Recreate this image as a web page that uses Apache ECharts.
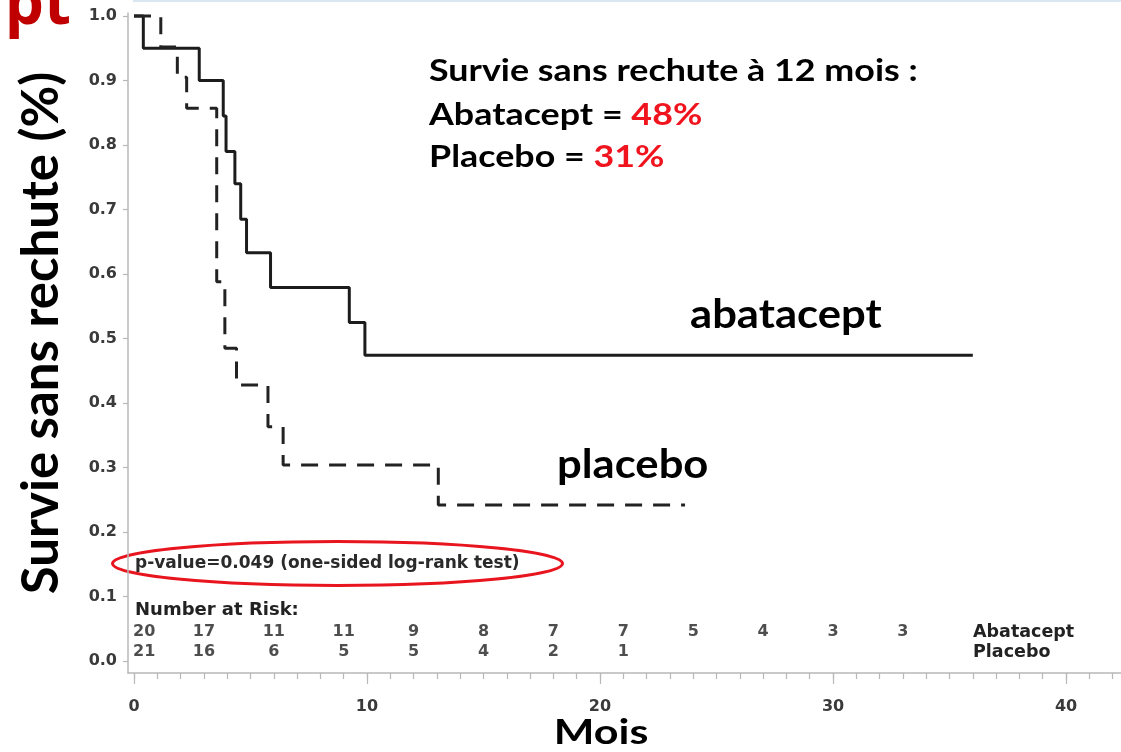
<!DOCTYPE html>
<html>
<head>
<meta charset="utf-8">
<script src="https://cdn.jsdelivr.net/npm/echarts@6/dist/echarts.min.js"></script>
<style>
html,body{margin:0;padding:0;background:#fff;}
#chart{width:1121px;height:752px;}
</style>
</head>
<body>
<div id="chart"></div>
<script>
// ---- Data ----
const abataceptTimes = [0, 0.4, 2.8, 3.83, 3.95, 4.33, 4.58, 4.83, 5.86, 9.24, 9.91, 36.0];
const abataceptSurv  = [1.0, 0.95, 0.90, 0.845, 0.79, 0.74, 0.685, 0.633, 0.579, 0.525, 0.474, 0.474];
const placeboTimes   = [0, 1.15, 1.86, 2.26, 3.55, 3.9, 4.4, 5.75, 6.4, 13.06, 23.65];
const placeboSurv    = [1.0, 0.952, 0.905, 0.857, 0.588, 0.485, 0.428, 0.363, 0.304, 0.242, 0.242];

const atRiskTimes     = [0, 3, 6, 9, 12, 15, 18, 21, 24, 27, 30, 33];
const atRiskAbatacept = [20, 17, 11, 11, 9, 8, 7, 7, 5, 4, 3, 3];
const atRiskPlacebo   = [21, 16, 6, 5, 5, 4, 2, 1];

const xTickLabels = [0, 10, 20, 30, 40];
const xMinorTicks = [0,1,2,3,4,5,6,7,8,9,10,11,12,13,14,15,16,17,18,19,20,21,22,23,24,25,26,27,28,29,30,31,32,33,34,35,36,37,38,39,40,41,42];
const yTickLabels = [0, 0.1, 0.2, 0.3, 0.4, 0.5, 0.6, 0.7, 0.8, 0.9, 1.0];

const annotTitle = 'Survie sans rechute à 12 mois :';
const annotAbatacept = '48%';
const annotPlacebo = '31%';
const pValueText = 'p-value=0.049 (one-sided log-rank test)';

// ---- Chart ----
const chart = echarts.init(document.getElementById('chart'), null, {renderer: 'canvas'});
const AX = '#b8b8b8';
const SANS = 'DejaVu Sans';
const BIG = 'Lato';

function zip(a, b) { return a.map((v, i) => [v, b[i]]); }
function riskData(counts, rowY) {
  return counts.map((n, i) => {
    const d = {value: [atRiskTimes[i], rowY, n]};
    if (i === 0) d.label = {align: 'left', offset: [-1, 0]};
    return d;
  });
}
const riskLabel = {
  show: true, position: 'inside', formatter: p => p.value[2],
  fontFamily: SANS, fontWeight: 'bold', fontSize: 16, color: '#222'
};

const option = {
  animation: false,
  backgroundColor: '#fff',
  grid: {left: 128, right: 0, top: 13, bottom: 79, containLabel: false},
  xAxis: [
    {
      type: 'value', min: -0.2575, max: 42.36, position: 'bottom',
      axisLine: {show: true, onZero: false, lineStyle: {color: AX, width: 1.5}},
      axisTick: {show: true, customValues: xMinorTicks, length: 6, lineStyle: {color: AX, width: 1.2}},
      axisLabel: {show: false},
      splitLine: {show: false}
    },
    {
      type: 'value', min: -0.2575, max: 42.36, position: 'bottom',
      axisLine: {show: false, onZero: false},
      axisTick: {show: true, customValues: xTickLabels, length: 11, lineStyle: {color: AX, width: 1.2}},
      axisLabel: {show: true, customValues: xTickLabels, margin: 26,
        fontFamily: SANS, fontWeight: 'bold', fontSize: 16, color: '#3a3a3a'},
      splitLine: {show: false}
    }
  ],
  yAxis: {
    type: 'value', min: -0.0186, max: 1.00465,
    axisLine: {show: true, onZero: false, lineStyle: {color: AX, width: 1.5}},
    axisTick: {show: true, customValues: yTickLabels, length: 5, lineStyle: {color: AX, width: 1.2}},
    axisLabel: {show: true, customValues: yTickLabels, formatter: v => v.toFixed(1), margin: 11,
      fontFamily: SANS, fontWeight: 'bold', fontSize: 16, color: '#3a3a3a'},
    splitLine: {show: false}
  },
  series: [
    {
      name: 'abatacept', type: 'line', step: 'end', symbol: 'none',
      data: zip(abataceptTimes, abataceptSurv),
      lineStyle: {color: '#1c1c1c', width: 3}, z: 3
    },
    {
      name: 'placebo', type: 'line', step: 'end', symbol: 'none',
      data: zip(placeboTimes, placeboSurv),
      lineStyle: {color: '#222', width: 3, type: [17, 11]}, z: 3
    },
    {
      name: 'riskA', type: 'scatter', symbolSize: 1, itemStyle: {color: 'rgba(0,0,0,0)'},
      data: riskData(atRiskAbatacept, 0.045), label: riskLabel, silent: true
    },
    {
      name: 'riskP', type: 'scatter', symbolSize: 1, itemStyle: {color: 'rgba(0,0,0,0)'},
      data: riskData(atRiskPlacebo, 0.0145), label: riskLabel, silent: true
    }
  ],
  graphic: [
    {type: 'rect', shape: {x: 133, y: 0, width: 988, height: 2}, style: {fill: '#dbe6f3'}, silent: true},
    {type: 'text', x: 71, y: 6, style: {
      text: 'pt', align: 'right', verticalAlign: 'middle',
      font: 'bold 62px "Open Sans"', fill: '#c00000',
      shadowColor: 'rgba(0,0,0,0.45)', shadowBlur: 4, shadowOffsetX: 3, shadowOffsetY: 3}},
    {type: 'text', x: 42, y: 333, rotation: Math.PI / 2, style: {
      text: 'Survie sans rechute (%)', align: 'center', verticalAlign: 'middle',
      font: 'bold 51px ' + BIG, fill: '#000'}},
    {type: 'text', x: 601, y: 733, scaleX: 1.23, style: {
      text: 'Mois', align: 'center', verticalAlign: 'middle',
      font: 'bold 35px ' + BIG, fill: '#000'}},
    {type: 'text', x: 429, y: 71, scaleX: 1.175, style: {
      text: annotTitle, align: 'left', verticalAlign: 'middle',
      font: 'bold 30.5px ' + BIG, fill: '#000'}},
    {type: 'text', x: 429, y: 115, scaleX: 1.175, style: {
      text: 'Abatacept = {r|' + annotAbatacept + '}', align: 'left', verticalAlign: 'middle',
      font: 'bold 30.5px ' + BIG, fill: '#000',
      rich: {r: {fill: '#f0141e', fontFamily: BIG, fontWeight: 'bold', fontSize: 30.5}}}},
    {type: 'text', x: 429, y: 157, scaleX: 1.175, style: {
      text: 'Placebo = {r|' + annotPlacebo + '}', align: 'left', verticalAlign: 'middle',
      font: 'bold 30.5px ' + BIG, fill: '#000',
      rich: {r: {fill: '#f0141e', fontFamily: BIG, fontWeight: 'bold', fontSize: 30.5}}}},
    {type: 'text', x: 690, y: 315, scaleX: 1.09, style: {
      text: 'abatacept', align: 'left', verticalAlign: 'middle',
      font: 'bold 40px ' + BIG, fill: '#000'}},
    {type: 'text', x: 557, y: 465, scaleX: 1.09, style: {
      text: 'placebo', align: 'left', verticalAlign: 'middle',
      font: 'bold 40px ' + BIG, fill: '#000'}},
    {type: 'text', x: 135, y: 564, style: {
      text: pValueText, align: 'left', verticalAlign: 'middle',
      font: 'bold 17px "' + SANS + '"', fill: '#2a2a2a'}},
    {type: 'ellipse', shape: {cx: 337.5, cy: 563.5, rx: 225, ry: 22}, style: {fill: 'none', stroke: '#e8141e', lineWidth: 3}},
    {type: 'text', x: 135, y: 610, style: {
      text: 'Number at Risk:', align: 'left', verticalAlign: 'middle',
      font: 'bold 18px "' + SANS + '"', fill: '#222'}},
    {type: 'text', x: 973, y: 632, style: {
      text: 'Abatacept', align: 'left', verticalAlign: 'middle',
      font: 'bold 17.5px "' + SANS + '"', fill: '#222'}},
    {type: 'text', x: 973, y: 652, style: {
      text: 'Placebo', align: 'left', verticalAlign: 'middle',
      font: 'bold 17.5px "' + SANS + '"', fill: '#222'}}
  ]
};
chart.setOption(option);
</script>
</body>
</html>
